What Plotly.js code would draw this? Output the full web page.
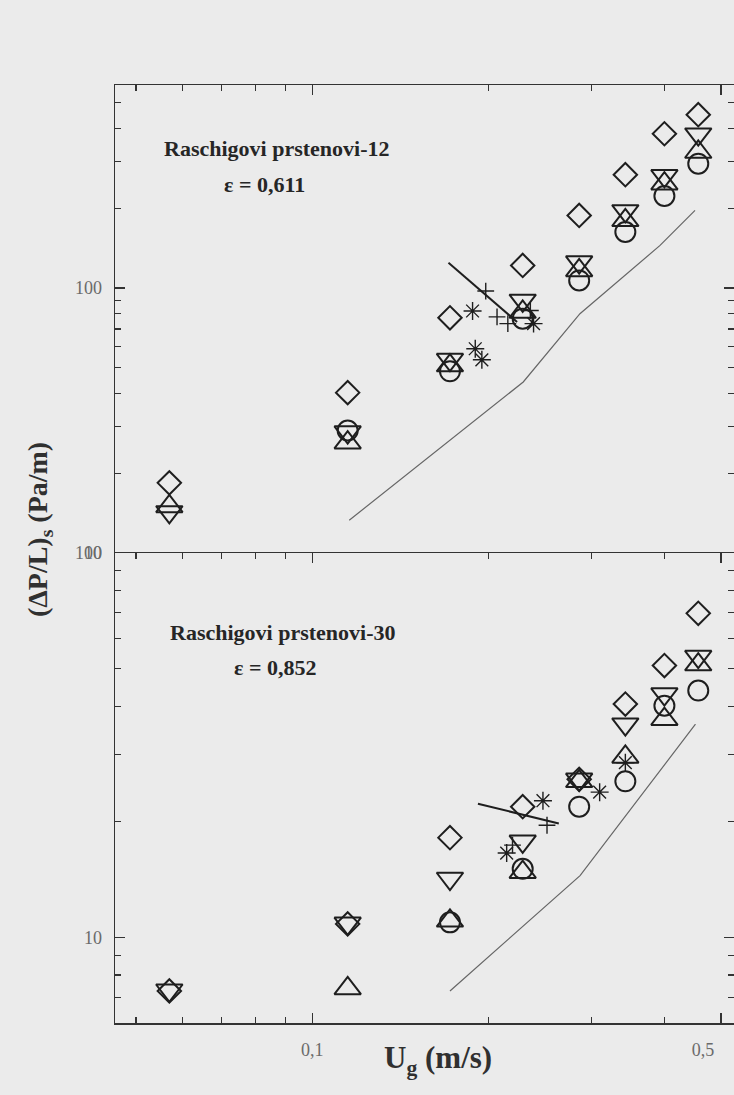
<!DOCTYPE html>
<html>
<head>
<meta charset="utf-8">
<script src="https://cdn.plot.ly/plotly-3.0.1.min.js"></script>
<style>
  html, body { margin: 0; padding: 0; background: #ebebeb; }
  #chart { width: 734px; height: 1095px; }
</style>
</head>
<body>
<div id="chart"></div>
<script>
// ---- Data ----
var ug = [0.057, 0.115, 0.172, 0.229, 0.286, 0.343, 0.400, 0.457];

// Raschigovi prstenovi-12 (top panel)
var top_diamond  = [18.4, 40.3, 77.2, 121.7, 187.9, 267.6, 382.0, 450.8];
var top_triDown  = [14.3, 28.6, 53.7, 89.8, 125.3, 195.4, 265.0, 380.5];
var top_triUp    = [15.0, 26.1, 51.0, 81.2, 116.5, 180.0, 247.5, 326.0];
var top_circle   = [null, 29.0, 48.5, 76.6, 106.8, 162.7, 222.5, 294.5];
var top_astX  = [0.188, 0.190, 0.195, 0.239];
var top_astY  = [81.9, 59.0, 53.6, 73.4];
var top_plusX = [0.198, 0.207, 0.216, 0.236];
var top_plusY = [97.4, 77.8, 73.4, 82.3];
var top_segX  = [0.171, 0.224];
var top_segY  = [124.6, 74.4];
var top_curveX = [0.1157, 0.2295, 0.2869, 0.3932, 0.4512];
var top_curveY = [13.3, 44.2, 80.0, 144.8, 196.3];

// Raschigovi prstenovi-30 (bottom panel)
var bot_diamond  = [7.27, 10.86, 18.2, 21.9, 25.8, 40.5, 51.0, 69.7];
var bot_triDown  = [7.3, 10.9, 14.25, 17.8, 25.8, 35.9, 43.0, 53.8];
var bot_triUp    = [null, 7.38, 11.06, 14.8, 25.5, 29.5, 37.0, 51.3];
var bot_circle   = [null, null, 10.96, 15.1, 21.9, 25.5, 40.1, 43.9];
var bot_astX  = [0.215, 0.248, 0.310, 0.343];
var bot_astY  = [16.6, 22.7, 23.9, 28.5];
var bot_plusX = [0.220, 0.252];
var bot_plusY = [17.4, 19.6];
var bot_segX  = [0.192, 0.264];
var bot_segY  = [22.3, 19.8];
var bot_curveX = [0.172, 0.287, 0.452];
var bot_curveY = [7.27, 14.5, 35.9];

var xTickVals = [0.1, 0.5];
var xTickText = ['0,1', '0,5\u00a0\u00a0\u00a0\u00a0\u00a0\u00a0\u00a0\u00a0'];
var xMinor = [0.05, 0.06, 0.07, 0.08, 0.09, 0.2, 0.3, 0.4];
var yTickVals = [10, 100];
var yTickText = ['10', '100'];
var yTopMinor = [20, 30, 40, 50, 60, 70, 80, 90, 200, 300, 400, 500];
var yBotMinor = [6, 7, 8, 9, 20, 30, 40, 50, 60, 70, 80, 90];

// ---- Styling ----
var ink = '#1e1e1e';
var serif = 'Liberation Serif, Times New Roman, serif';

function markers(x, y, sym, size, xa, ya, lw) {
  return {
    x: x, y: y, xaxis: xa, yaxis: ya, type: 'scatter', mode: 'markers',
    marker: { symbol: sym, size: size, color: ink, line: { color: ink, width: lw || 2 } },
    showlegend: false, hoverinfo: 'x+y'
  };
}
function line(x, y, xa, ya, w, c) {
  return {
    x: x, y: y, xaxis: xa, yaxis: ya, type: 'scatter', mode: 'lines',
    line: { color: c, width: w }, showlegend: false, hoverinfo: 'x+y'
  };
}

var traces = [
  // top panel
  line(top_curveX, top_curveY, 'x2', 'y', 1.2, '#666'),
  line(top_segX, top_segY, 'x2', 'y', 2, ink),
  markers(ug, top_circle, 'circle-open', 20, 'x2', 'y'),
  markers(ug, top_triUp, 'triangle-up-open', 23, 'x2', 'y'),
  markers(ug, top_triDown, 'triangle-down-open', 23, 'x2', 'y'),
  markers(ug, top_diamond, 'diamond-open', 18, 'x2', 'y'),
  markers(top_astX, top_astY, 'asterisk-open', 15, 'x2', 'y', 1.4),
  markers(top_plusX, top_plusY, 'cross-thin-open', 12, 'x2', 'y', 1.4),
  // bottom panel
  line(bot_curveX, bot_curveY, 'x', 'y2', 1.2, '#666'),
  line(bot_segX, bot_segY, 'x', 'y2', 2, ink),
  markers(ug, bot_circle, 'circle-open', 20, 'x', 'y2'),
  markers(ug, bot_triUp, 'triangle-up-open', 23, 'x', 'y2'),
  markers(ug, bot_triDown, 'triangle-down-open', 23, 'x', 'y2'),
  markers(ug, bot_diamond, 'diamond-open', 18, 'x', 'y2'),
  markers(bot_astX, bot_astY, 'asterisk-open', 15, 'x', 'y2', 1.4),
  markers(bot_plusX, bot_plusY, 'cross-thin-open', 12, 'x', 'y2', 1.4)
];

var xRange = [-1.337, -0.279];
var tickFont = { family: serif, size: 18, color: '#6a6a6a' };

function xAxis(extra) {
  var a = {
    type: 'log', range: xRange, domain: [0, 1],
    showline: true, linecolor: '#333', linewidth: 1.5,
    ticks: 'inside', ticklen: 10, tickwidth: 1.3, tickcolor: '#333',
    tickmode: 'array', tickvals: xTickVals, ticktext: xTickText,
    tickfont: tickFont, ticklabelstandoff: 10, ticklabeloverflow: 'allow',
    minor: { tickmode: 'array', tickvals: xMinor, ticks: 'inside', ticklen: 6, tickwidth: 1.2, tickcolor: '#333', showgrid: false },
    showgrid: false, zeroline: false
  };
  for (var k in extra) a[k] = extra[k];
  return a;
}
function yAxis(extra, minorVals) {
  var a = {
    type: 'log',
    showline: true, linecolor: '#333', linewidth: 1.5, mirror: 'allticks',
    ticks: 'inside', ticklen: 10, tickwidth: 1.3, tickcolor: '#333',
    tickmode: 'array', tickvals: yTickVals, ticktext: yTickText,
    tickfont: tickFont, ticklabelstandoff: 8,
    minor: { tickmode: 'array', tickvals: minorVals, ticks: 'inside', ticklen: 6, tickwidth: 1.2, tickcolor: '#333', showgrid: false },
    showgrid: false, zeroline: false
  };
  for (var k in extra) a[k] = extra[k];
  return a;
}

var textFont = { family: serif, size: 22, color: '#262626' };

var layout = {
  width: 734, height: 1095,
  margin: { l: 115, r: 0, t: 85, b: 72, pad: 0 },
  paper_bgcolor: '#ebebeb', plot_bgcolor: '#ebebeb',
  showlegend: false,
  xaxis: xAxis({ anchor: 'y2', mirror: 'allticks' }),
  xaxis2: xAxis({ anchor: 'y', side: 'top', showticklabels: false, matches: 'x' }),
  yaxis: yAxis({ domain: [0.501, 1], anchor: 'x2', range: [1, 2.766] }, yTopMinor),
  yaxis2: yAxis({ domain: [0, 0.501], anchor: 'x', range: [Math.log10(6), 2] }, yBotMinor),
  annotations: [
    { text: '<b>Raschigovi prstenovi-12</b>', xref: 'paper', yref: 'paper', x: 0.076, y: 0.9328,
      xanchor: 'left', yanchor: 'middle', showarrow: false, font: textFont },
    { text: '<b>ε = 0,611</b>', xref: 'paper', yref: 'paper', x: 0.173, y: 0.8934,
      xanchor: 'left', yanchor: 'middle', showarrow: false, font: textFont },
    { text: '<b>Raschigovi prstenovi-30</b>', xref: 'paper', yref: 'paper', x: 0.0856, y: 0.4168,
      xanchor: 'left', yanchor: 'middle', showarrow: false, font: textFont },
    { text: '<b>ε = 0,852</b>', xref: 'paper', yref: 'paper', x: 0.189, y: 0.3785,
      xanchor: 'left', yanchor: 'middle', showarrow: false, font: textFont },
    { text: '<b>(ΔP/L)<sub>s</sub> (Pa/m)</b>', xref: 'paper', yref: 'paper', x: -0.121, y: 0.5256,
      xanchor: 'center', yanchor: 'middle', textangle: -90, showarrow: false,
      font: { family: serif, size: 28, color: '#303030' } },
    { text: '<b>U<sub>g</sub> (m/s)</b>', xref: 'paper', yref: 'paper', x: 0.522, y: -0.016,
      xanchor: 'center', yanchor: 'top', showarrow: false,
      font: { family: serif, size: 31, color: '#303030' } }
  ]
};

Plotly.newPlot('chart', traces, layout, { displayModeBar: false, staticPlot: true });
</script>
</body>
</html>
